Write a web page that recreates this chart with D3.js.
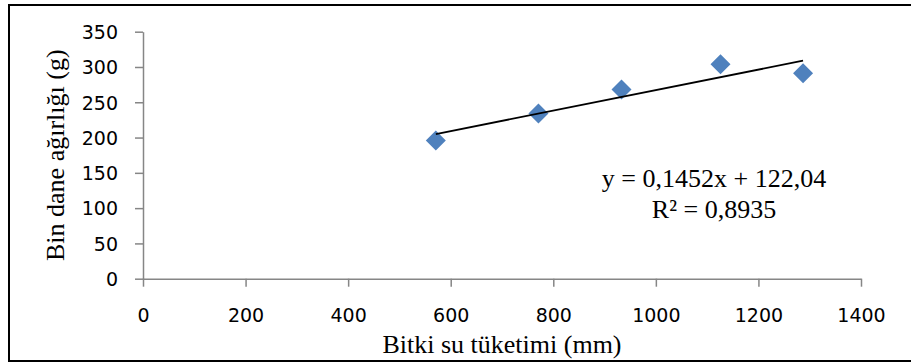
<!DOCTYPE html>
<html>
<head>
<meta charset="utf-8">
<script src="https://cdn.jsdelivr.net/npm/d3@7"></script>
<style>
  body { margin: 0; background: #fff; }
  svg { display: block; }
</style>
</head>
<body>
<div id="chart"></div>
<script>
// veriler: bitki su tüketimi (mm) ve bin dane ağırlığı (g)
const suTuketimi = [571, 771, 933, 1126, 1287];
const binDane = [196, 234, 268, 304, 291];
const xTicks = [0, 200, 400, 600, 800, 1000, 1200, 1400];
const yTicks = [0, 50, 100, 150, 200, 250, 300, 350];
const trend = { slope: 0.1452, intercept: 122.04, r2: 0.8935 };
const eqLines = ["y = 0,1452x + 122,04", "R² = 0,8935"];

const W = 911, H = 363;
const margin = { left: 143, right: 50, top: 31.7, bottom: 84.3 };

const svg = d3.select("#chart").append("svg")
  .attr("width", W)
  .attr("height", H);

// dış çerçeve
svg.append("rect")
  .attr("x", 9).attr("y", 5)
  .attr("width", 910).attr("height", 356)
  .attr("fill", "none")
  .attr("stroke", "#000")
  .attr("stroke-width", 2);

const x = d3.scaleLinear().domain([0, 1400]).range([margin.left, W - margin.right]);
const y = d3.scaleLinear().domain([0, 350]).range([H - margin.bottom, margin.top]);

const axisColor = "#868686";
const tickFont = "'DejaVu Sans', sans-serif";
const serif = "'Liberation Serif', 'Times New Roman', serif";

// x ekseni
const gx = svg.append("g")
  .attr("transform", `translate(0,${y(0)})`)
  .call(d3.axisBottom(x).tickValues(xTicks).tickFormat(d3.format("d"))
    .tickSize(8).tickSizeOuter(0));
gx.select(".domain").attr("stroke", axisColor).attr("stroke-width", 1.5);
gx.selectAll(".tick line").attr("stroke", axisColor).attr("stroke-width", 1.5);
gx.selectAll(".tick text")
  .attr("font-family", tickFont)
  .attr("font-size", 19)
  .attr("fill", "#000")
  .attr("dy", null)
  .attr("y", 43);

// y ekseni
const gy = svg.append("g")
  .attr("transform", `translate(${x(0)},0)`)
  .call(d3.axisLeft(y).tickValues(yTicks).tickFormat(d3.format("d"))
    .tickSize(8).tickSizeOuter(0).tickPadding(17));
gy.select(".domain").attr("stroke", axisColor).attr("stroke-width", 1.5);
gy.selectAll(".tick line").attr("stroke", axisColor).attr("stroke-width", 1.5);
gy.selectAll(".tick text")
  .attr("font-family", tickFont)
  .attr("font-size", 19)
  .attr("fill", "#000")
  .attr("dy", "0.36em");

// noktalar (elmas)
const diamond = d3.symbol(d3.symbolSquare, 200);
svg.append("g")
  .selectAll("path")
  .data(suTuketimi.map((v, i) => [v, binDane[i]]))
  .join("path")
  .attr("d", diamond)
  .attr("transform", (d) => `translate(${x(d[0])},${y(d[1])}) rotate(45)`)
  .attr("fill", "#4F81BD");

// doğrusal eğilim çizgisi
const xExt = d3.extent(suTuketimi);
svg.append("line")
  .attr("x1", x(xExt[0]))
  .attr("y1", y(trend.slope * xExt[0] + trend.intercept))
  .attr("x2", x(xExt[1]))
  .attr("y2", y(trend.slope * xExt[1] + trend.intercept))
  .attr("stroke", "#000")
  .attr("stroke-width", 1.8);

// denklem
svg.append("g")
  .selectAll("text")
  .data(eqLines)
  .join("text")
  .attr("x", 714)
  .attr("y", (d, i) => 187 + i * 31)
  .attr("text-anchor", "middle")
  .attr("font-family", serif)
  .attr("font-size", 26)
  .text((d) => d);

// eksen başlıkları
svg.append("text")
  .attr("x", (x(0) + x(1400)) / 2)
  .attr("y", 353)
  .attr("text-anchor", "middle")
  .attr("font-family", serif)
  .attr("font-size", 26)
  .text("Bitki su tüketimi (mm)");

svg.append("text")
  .attr("transform", `translate(63.5,${(y(0) + y(350)) / 2}) rotate(-90)`)
  .attr("text-anchor", "middle")
  .attr("font-family", serif)
  .attr("font-size", 26)
  .text("Bin dane ağırlığı (g)");
</script>
</body>
</html>
